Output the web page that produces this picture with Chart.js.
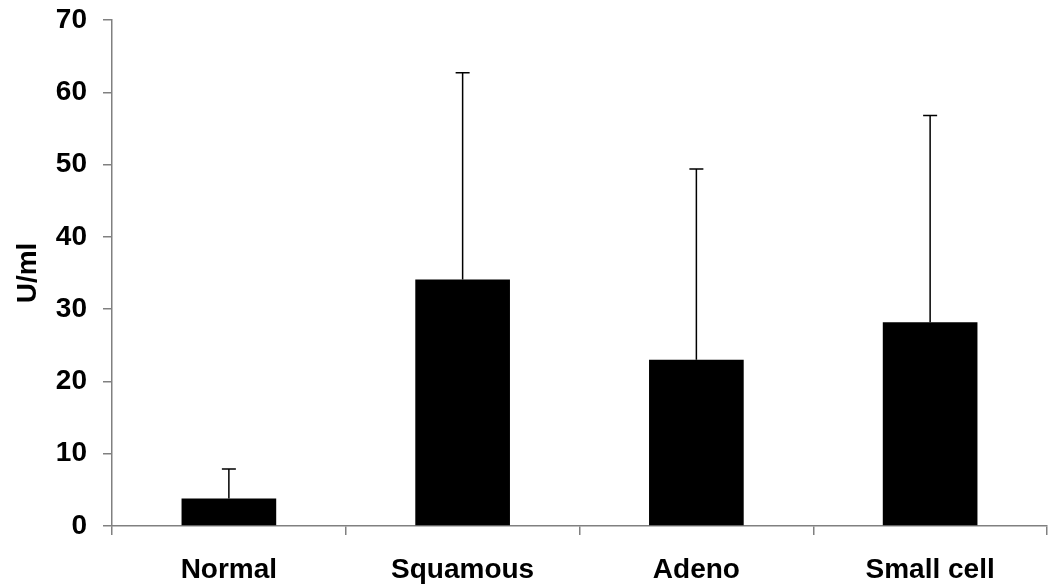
<!DOCTYPE html>
<html>
<head>
<meta charset="utf-8">
<script src="https://cdn.jsdelivr.net/npm/chart.js@4/dist/chart.umd.min.js"></script>
<style>
  html, body { margin: 0; padding: 0; background: #fff; }
  #wrap { width: 1049px; height: 588px; }
</style>
</head>
<body>
<div id="wrap"><canvas id="myChart"></canvas></div>
<script>
// Datos
var categorias = ['Normal', 'Squamous', 'Adeno', 'Small cell'];
var medias = [3.8, 34.1, 23.0, 28.2];
var limiteSuperior = [7.9, 62.7, 49.4, 56.8]; // extremo de la barra de error
var ticksY = [0, 10, 20, 30, 40, 50, 60, 70];

var fuente = { family: 'Liberation Sans, Arial, sans-serif', size: 28, weight: 'bold' };

// Plugin para dibujar las barras de error (solo hacia arriba)
var barrasError = {
    id: 'barrasError',
    afterDatasetsDraw: function(chart) {
        var ctx = chart.ctx;
        var y = chart.scales.y;
        var meta = chart.getDatasetMeta(0);
        ctx.save();
        ctx.strokeStyle = '#000';
        ctx.lineWidth = 1.5;
        meta.data.forEach(function(bar, i) {
            var yTop = y.getPixelForValue(limiteSuperior[i]);
            var yBase = y.getPixelForValue(medias[i]);
            ctx.beginPath();
            ctx.moveTo(bar.x, yBase);
            ctx.lineTo(bar.x, yTop);
            ctx.moveTo(bar.x - 7, yTop);
            ctx.lineTo(bar.x + 7, yTop);
            ctx.stroke();
        });
        ctx.restore();
    }
};

var ctx = document.getElementById('myChart').getContext('2d');
var myChart = new Chart(ctx, {
    type: 'bar',
    data: {
        labels: categorias,
        datasets: [{
            data: medias,
            backgroundColor: '#000',
            borderColor: '#000',
            borderWidth: 0,
            categoryPercentage: 1.0,
            barPercentage: 0.405
        }]
    },
    options: {
        responsive: true,
        maintainAspectRatio: false,
        animation: false,
        layout: { padding: { top: 20, right: 2, left: 0, bottom: 0 } },
        plugins: {
            legend: { display: false },
            tooltip: { enabled: false }
        },
        scales: {
            x: {
                grid: {
                    display: true,
                    drawOnChartArea: false,
                    drawTicks: true,
                    tickLength: 9,
                    color: '#808080',
                    lineWidth: 1.5
                },
                border: { color: '#808080', width: 1.5 },
                ticks: { color: '#000', font: fuente, padding: 18, maxRotation: 0 },
                afterFit: function(scale) {
                    scale.height = 62;
                    scale.paddingLeft = 0;
                    scale.paddingRight = 0;
                }
            },
            y: {
                min: 0,
                max: 70,
                afterBuildTicks: function(scale) {
                    scale.ticks = ticksY.map(function(v) { return { value: v }; });
                },
                grid: {
                    display: true,
                    drawOnChartArea: false,
                    drawTicks: true,
                    tickLength: 9,
                    color: '#808080',
                    lineWidth: 1.5
                },
                border: { color: '#808080', width: 1.5 },
                ticks: { color: '#000', font: fuente, padding: 16 },
                title: {
                    display: true,
                    text: 'U/ml',
                    color: '#000',
                    font: fuente,
                    padding: { top: 11, bottom: 0 }
                },
                afterFit: function(scale) {
                    scale.width = 112;
                    scale.paddingTop = 0;
                    scale.paddingBottom = 0;
                }
            }
        }
    },
    plugins: [barrasError]
});
</script>
</body>
</html>
